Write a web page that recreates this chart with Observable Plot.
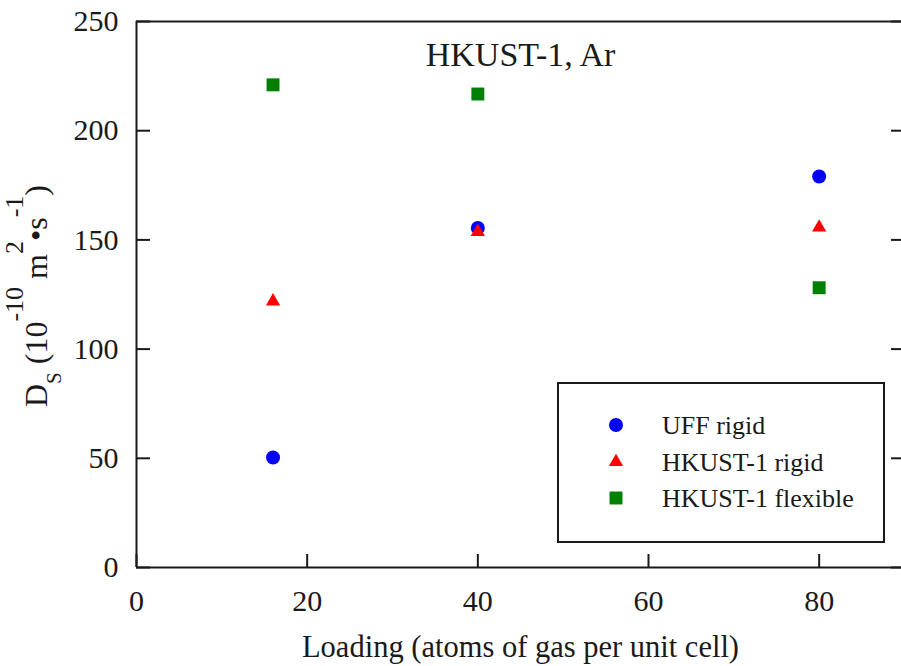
<!DOCTYPE html>
<html><head><meta charset="utf-8">
<script src="https://cdn.jsdelivr.net/npm/d3@7"></script>
<script src="https://cdn.jsdelivr.net/npm/@observablehq/plot@0.6"></script>
<style>
html,body{margin:0;padding:0;background:#fff;overflow:hidden;}
#chart{width:901px;height:666px;}
</style></head><body><div id="chart"></div>
<script>
// ---- data ----
const loading = [16, 40, 80];
const uffRigid = [50.4, 155.5, 179.0];
const hkustRigid = [121.9, 153.7, 155.7];
const hkustFlexible = [221.0, 216.8, 128.1];
const seriesNames = ["UFF rigid", "HKUST-1 rigid", "HKUST-1 flexible"];
const seriesColors = ["#0000ff", "#ff0000", "#008000"];
const seriesSymbols = ["circle", "triangle", "square"];
const seriesRadius = [7, 5.3, 7.3];
const xTicks = [0, 20, 40, 60, 80];
const yTicks = [0, 50, 100, 150, 200, 250];
const title = "HKUST-1, Ar";
const xLabel = "Loading (atoms of gas per unit cell)";

const seriesValues = [uffRigid, hkustRigid, hkustFlexible];
const rows = seriesValues.map(vals => loading.map((x, i) => ({x, y: vals[i]})));

const font = '"Liberation Serif", "Times New Roman", serif';
const ink = "#1a1a1a";

const plot = Plot.plot({
  width: 901, height: 666,
  marginTop: 21, marginBottom: 99, marginLeft: 136, marginRight: -3,
  style: {fontFamily: font, fontSize: "30px", color: ink, background: "white", overflow: "hidden"},
  x: {domain: [0, 90], label: null},
  y: {domain: [0, 250], label: null},
  marks: [
    Plot.ruleY([0], {stroke: ink, strokeWidth: 2}),
    Plot.ruleY([250], {stroke: ink, strokeWidth: 2}),
    Plot.ruleX([0], {stroke: ink, strokeWidth: 2}),
    Plot.axisX({ticks: xTicks, tickSize: -13, tickPadding: 35, strokeWidth: 2, stroke: ink, fill: ink, label: null, fontSize: 30}),
    Plot.axisY({anchor: "left", ticks: yTicks, tickSize: -14, tickPadding: 32, strokeWidth: 2, stroke: ink, fill: ink, label: null, fontSize: 30}),
    Plot.axisY({anchor: "right", ticks: yTicks, tickSize: -14, tickFormat: () => "", strokeWidth: 2, stroke: ink, label: null}),
    ...rows.map((r, k) => Plot.dot(r, {x: "x", y: "y", symbol: seriesSymbols[k], r: seriesRadius[k], fill: seriesColors[k], stroke: "none"})),
    Plot.text([title], {frameAnchor: "top", dy: 20, fontSize: 34, fill: ink}),
    Plot.text([xLabel], {frameAnchor: "bottom", dy: 89, fontSize: 30.5, fill: ink})
  ]
});

const svg = d3.select(plot);
// legend
const lg = svg.append("g").attr("font-family", font).attr("text-anchor", "start");
lg.append("rect").attr("x", 558).attr("y", 383).attr("width", 326).attr("height", 159)
  .attr("fill", "white").attr("stroke", ink).attr("stroke-width", 2);
const symMap = {circle: d3.symbolCircle, triangle: d3.symbolTriangle, square: d3.symbolSquare};
const rowY = [425, 462, 498];
seriesNames.forEach((name, k) => {
  lg.append("path")
    .attr("d", d3.symbol(symMap[seriesSymbols[k]], Math.PI * seriesRadius[k] ** 2)())
    .attr("transform", `translate(616,${rowY[k]})`)
    .attr("fill", seriesColors[k]);
  lg.append("text").attr("x", 662).attr("y", rowY[k]).attr("dy", "0.35em")
    .attr("text-anchor", "start")
    .attr("font-size", 26).attr("fill", ink).text(name);
});
// y label
const yl = svg.append("text")
  .attr("transform", "translate(47,296) rotate(-90)")
  .attr("text-anchor", "middle")
  .attr("font-family", font).attr("font-size", 32).attr("fill", ink);
yl.append("tspan").text("D");
yl.append("tspan").attr("font-size", 21).attr("dy", 14).text("S");
yl.append("tspan").attr("dy", -14).text(" (10");
yl.append("tspan").attr("font-size", 26).attr("dy", -24).text("-10");
yl.append("tspan").attr("dy", 24).text(" m");
yl.append("tspan").attr("font-size", 26).attr("dy", -24).text("2");
yl.append("tspan").attr("dy", 24).text("•s");
yl.append("tspan").attr("font-size", 26).attr("dy", -24).text("-1");
yl.append("tspan").attr("dy", 24).text(")");

document.getElementById("chart").appendChild(plot);
</script>
</body></html>
